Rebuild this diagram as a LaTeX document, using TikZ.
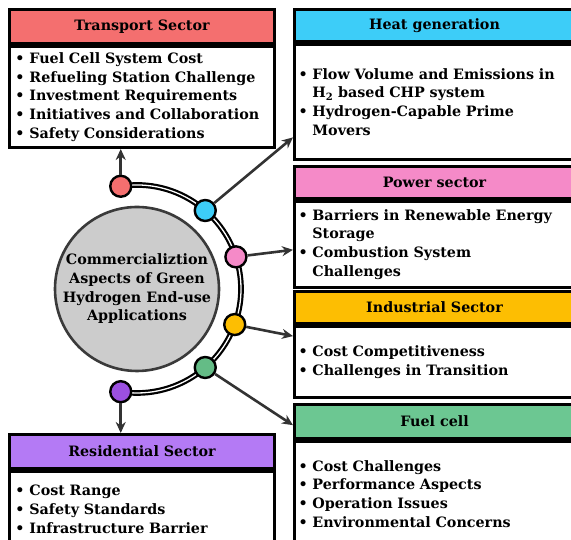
\documentclass[tikz,border=0pt]{standalone}
\usepackage{fontspec}
\setmainfont{DejaVu Serif}
\usetikzlibrary{positioning}
\usetikzlibrary{calc}
\usetikzlibrary{arrows.meta}

\definecolor{transc}{HTML}{F46F6F}
\definecolor{heatc}{HTML}{3DCDF8}
\definecolor{powc}{HTML}{F58AC8}
\definecolor{indc}{HTML}{FDBE02}
\definecolor{fuelc}{HTML}{6CC792}
\definecolor{resc}{HTML}{B47AF5}
\definecolor{purdot}{HTML}{9B50E0}
\definecolor{gredot}{HTML}{64BC86}
\definecolor{arrgray}{HTML}{333333}
\definecolor{rimgray}{HTML}{3A3A3A}

\newcommand{\bitem}{\textbullet\ }
\newcommand{\bcont}{\phantom{\textbullet\ }}

\begin{document}
\begin{tikzpicture}
  [x=1pt, y=1pt,
   font=\fontsize{14.3}{18.7}\selectfont\bfseries,
   head/.style = {draw, line width=3pt, anchor=north west, inner sep=0pt},
   body/.style = {draw, line width=3pt, fill=white, anchor=north, align=left,
                  inner ysep=0pt},
   dot/.style = {circle, draw, line width=2.4pt, minimum size=21pt, inner sep=0pt},
   arr/.style = {-{Stealth[length=11pt, width=10pt]}, line width=2.6pt, draw=arrgray}]
  \useasboundingbox (0,0) rectangle (571,540);

  % boxes on the left
  \node [head, fill=transc, minimum width=265pt, minimum height=34pt] (th) at (8,532) {Transport Sector};
  \node [body, inner xsep=6pt, text width=253pt, minimum height=101pt] (tb) at (th.south)
    {\bitem Fuel Cell System Cost\\
     \bitem Refueling Station Challenge\\
     \bitem Investment Requirements\\
     \bitem Initiatives and Collaboration\\
     \bitem Safety Considerations};

  \node [head, fill=resc, minimum width=265pt, minimum height=34pt] (rh) at (8,107) {Residential Sector};
  \node [body, inner xsep=6pt, text width=253pt, minimum height=76pt] (rb) at (rh.south)
    {\bitem Cost Range\\
     \bitem Safety Standards\\
     \bitem Infrastructure Barrier};

  % boxes on the right
  \node [head, fill=heatc, minimum width=280pt, minimum height=32pt] (hh) at (293,532) {Heat generation};
  \node [body, inner xsep=4pt, text width=272pt, minimum height=115pt] (hb) at (hh.south)
    {\bitem Flow Volume and Emissions in\\
     \bcont H\textsubscript{2} based CHP system\\
     \bitem Hydrogen-Capable Prime\\
     \bcont Movers};

  \node [head, fill=powc, minimum width=280pt, minimum height=32pt] (ph) at (293,375) {Power sector};
  \node [body, inner xsep=4pt, text width=272pt, minimum height=86pt] (pb) at (ph.south)
    {\bitem Barriers in Renewable Energy\\
     \bcont Storage\\
     \bitem Combustion System\\
     \bcont Challenges};

  \node [head, fill=indc, minimum width=280pt, minimum height=32pt] (ih) at (293,250) {Industrial Sector};
  \node [body, inner xsep=4pt, text width=272pt, minimum height=71pt] (ib) at (ih.south)
    {\bitem Cost Competitiveness\\
     \bitem Challenges in Transition};

  \node [head, fill=fuelc, minimum width=280pt, minimum height=34pt] (fh) at (293,137) {Fuel cell};
  \node [body, inner xsep=4pt, text width=272pt, minimum height=105pt] (fb) at (fh.south)
    {\bitem Cost Challenges\\
     \bitem Performance Aspects\\
     \bitem Operation Issues\\
     \bitem Environmental Concerns};

  % centre and rail
  \node [circle, draw=rimgray, fill=black!20, line width=2.6pt, minimum size=164pt,
         inner sep=0pt, align=center] (c) at (137,251)
    {Commercializtion\\Aspects of Green\\Hydrogen End-use\\Applications};

  \draw [line width=2.2pt, double=white, double distance=1.3pt]
    ($(c)+(99:104)$) arc [start angle=99, end angle=-99, radius=104];

  \node [dot, fill=transc] (r) at ($(c)+(99:104)$) {};
  \node [dot, fill=heatc] (h) at ($(c)+(49:104)$) {};
  \node [dot, fill=powc] (p) at ($(c)+(18:104)$) {};
  \node [dot, fill=indc] (i) at ($(c)+(-20:104)$) {};
  \node [dot, fill=gredot] (f) at ($(c)+(-49:104)$) {};
  \node [dot, fill=purdot] (s) at ($(c)+(-99:104)$) {};

  \draw [arr] (r) -- (r |- tb.south);
  \draw [arr] (s) -- (s |- rh.north);
  \draw [arr] (h) -- ($(hb.south west)!0.2!(hb.north west)$);
  \draw [arr] (p) -- ($(pb.south west)!0.44!(pb.north west)$);
  \draw [arr] (i) -- ($(ib.south west)!0.85!(ib.north west)$);
  \draw [arr] (f) -- ($(fh.south west)!0.4!(fh.north west)$);
\end{tikzpicture}
\end{document}
